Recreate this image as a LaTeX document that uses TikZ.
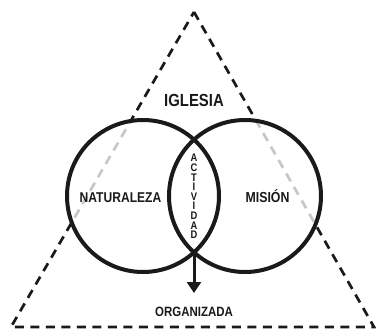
\documentclass[tikz,border=0pt]{standalone}
\usepackage{fontspec}
\newfontfamily\lbl[FakeStretch=0.85]{Liberation Sans}
\usetikzlibrary{arrows.meta}
\definecolor{ink}{HTML}{1A1A1A}
\definecolor{lightdash}{HTML}{C8C8C8}
\tikzset{
  tri/.style={line width=2.7pt, dash pattern=on 9pt off 6.5pt},
  ring/.style={circle, draw=ink, line width=4pt, minimum size=152pt, inner sep=0pt},
  lab/.style={inner sep=0pt, text=ink, text depth=0pt},
}
\begin{document}
\begin{tikzpicture}[x=1pt,y=-1pt]
\useasboundingbox (0,0) rectangle (376,330);
\coordinate (apex) at (194,12);
\coordinate (bl) at (11,327);
\coordinate (br) at (374,327);
% black dashed triangle
\draw[tri, draw=ink] (apex) -- (br) -- (bl) -- cycle;
% white interiors of the circles
\fill[white] (143,196) circle (76) (245,196) circle (76);
% gray dashed parts inside the circles
\begin{scope}
\clip (143,196) circle (76) (245,196) circle (76);
\draw[tri, draw=lightdash] (apex) -- (br) -- (bl) -- cycle;
\end{scope}
% circles
\node[ring] (L) at (143,196) {};
\node[ring] (R) at (245,196) {};
\coordinate (bot) at (194,252);
\coordinate (tip) at (194,293);
\draw[ink, line width=3pt, -{Triangle[length=11pt,width=14pt]}] (bot) -- (tip);
% labels
\node[lab, text height=12.5pt, font=\lbl\bfseries\fontsize{17.5}{20}\selectfont] (igl) at (194,100) {IGLESIA};
\node[lab, text height=10.2pt, font=\lbl\bfseries\fontsize{14.2}{17}\selectfont] (nat) at (120.5,197) {NATURALEZA};
\node[lab, text height=10.2pt, font=\lbl\bfseries\fontsize{14.5}{17}\selectfont] (mis) at (267.5,197) {MISIÓN};
\node[lab, text height=9.3pt, font=\lbl\bfseries\fontsize{13.5}{16}\selectfont] (org) at (194,311.5) {ORGANIZADA};
\node[inner sep=0pt, text=ink, align=center, font=\lbl\bfseries\fontsize{11}{9.6}\selectfont] (act) at (194,196.5) {A\\C\\T\\I\\V\\I\\D\\A\\D};
\end{tikzpicture}
\end{document}
